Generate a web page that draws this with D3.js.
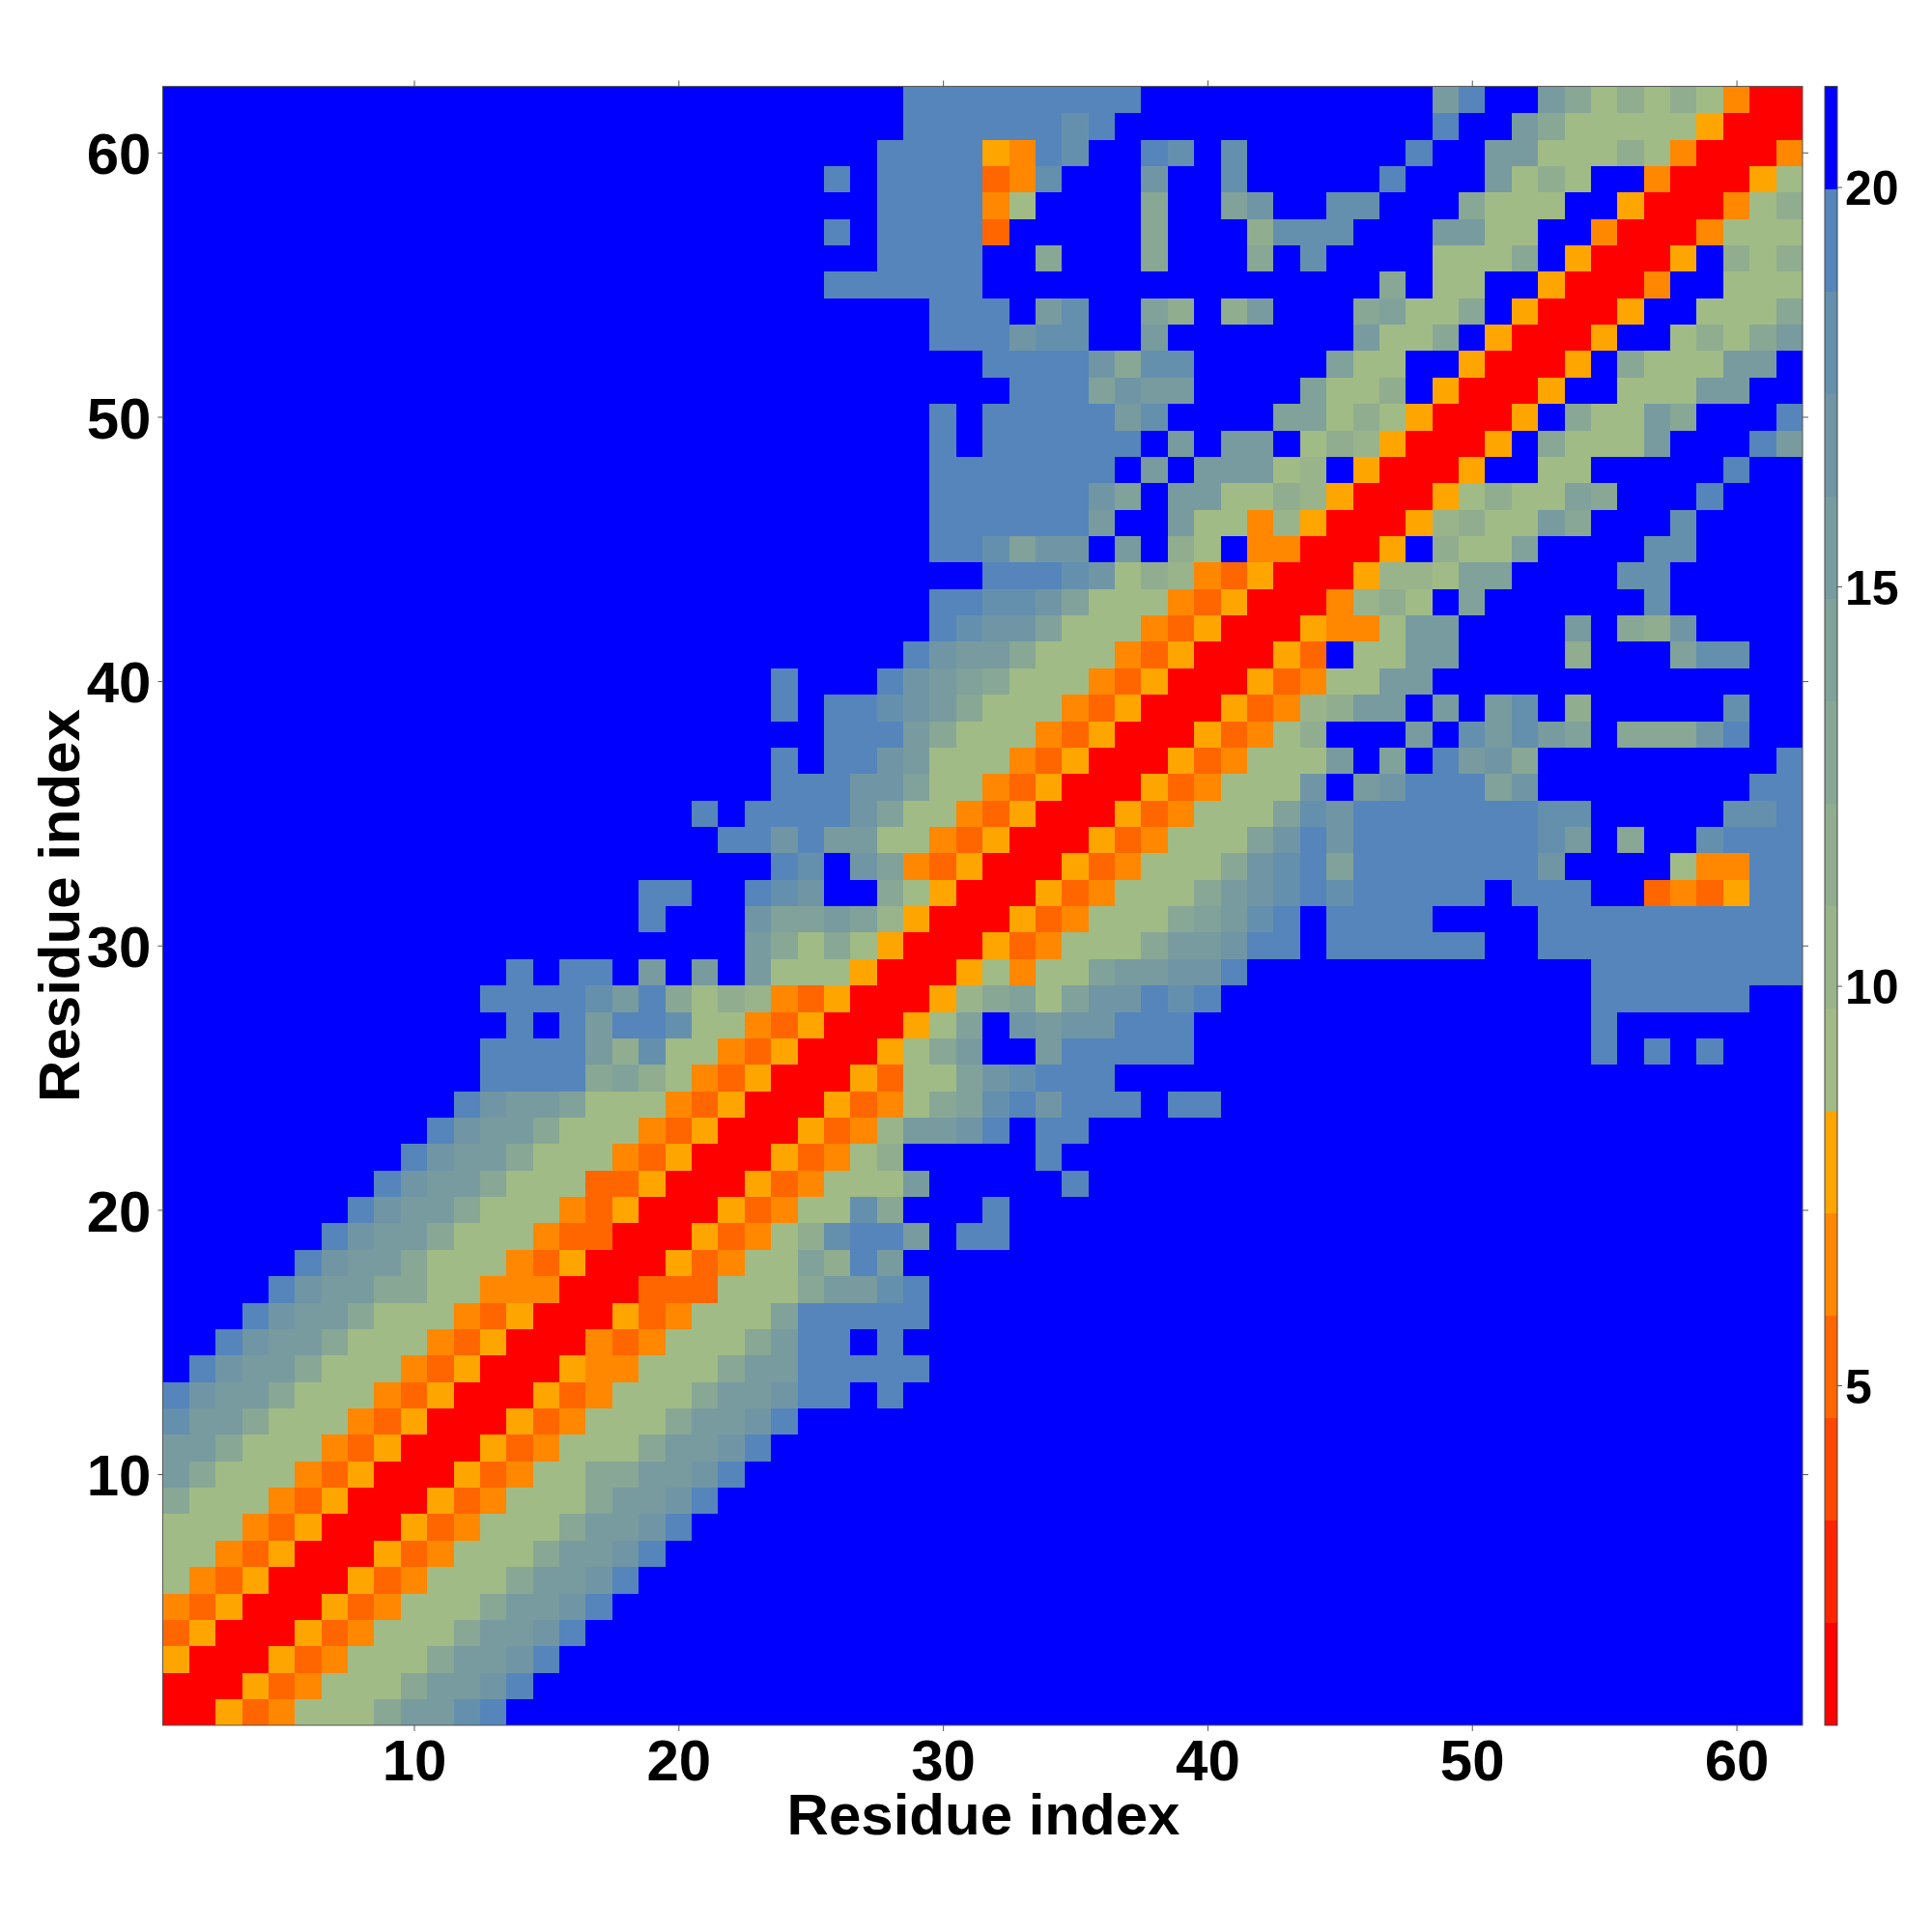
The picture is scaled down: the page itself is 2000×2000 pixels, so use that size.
<!DOCTYPE html>
<html>
<head>
<meta charset="utf-8">
<script src="https://cdn.jsdelivr.net/npm/d3@7"></script>
<style>
html,body{margin:0;padding:0;background:#fff}
svg{display:block}
text{font-family:"Liberation Sans",Arial,sans-serif;font-weight:700;fill:#000}
</style>
</head>
<body>
<svg id="chart" width="2000" height="2000"></svg>
<script>
// Distance-map bands for residue pairs (lower index <= upper index), one string per residue 1..62.
// Each character is a colour-bar band (1..9,a..g); short rows are left-padded with band g.
const distanceRows = [
"1","11","611","4611","54611","754611","7754611","77754611","a77754611","ca77754611",
"cca77754611","ecca77754611","fdcca77754611","fdcca77754611","fdcca77754611","fdcca77754611",
"fdccaa7755511","fdcca77754611","fdcca77754411","fdcca77754611","fdcca77744611","fdcca77754611",
"fdcca77754611","fdccb77754611","ffffab9754611","ffffc9e7754611","fgfcffe7754611","ffffecfa79854611",
"fgffgcgcgc777611","ca7a7611","fgggdbbcb8611","ffggfedgga7611","fegdb54611","ffdfcc7754611",
"fgffffdb7754611","fffddb7754611","fgffdc77754611","fffca77754611","fgffedca77754611","fgggfdcba77754611",
"fdcca77754611","feddb77754611","ffeedb77754611","fffed79854611","ffebddgcg97g5511","ffffffcggc7758611",
"ffffffdbgcc7798611","fffffffgcgccc78g611","fgffffffgcgccg798611","fgfffffceggggbb797611",
"fffbdccggggb779g611","ffffdaeegggggb77gg611","fffdeeggcgggggggc77ag611","fffgceggb9g9cgggab77ag611",
"ffffffgggggggggggggggag77gg611","ffffggagggagggagegggg777ag611","fgffff4gggggaggg9eeegggcc77gg511",
"ffff57ggggaggbdggeeggga777gg611","fgffff45egggdggegggggfgggc797gg511",
"ffff65feggfegeggggggfggcc77797511","ffffffefggggggggggggfggca77777611",
"fffffffffgggggggggggcfggca7979751 1"
];
const axisTicks = [10, 20, 30, 40, 50, 60];
const colorTicks = [5, 10, 15, 20];
const colorBands = ["#ff0000","#ff2400","#ff4800","#ff6600","#ff8800","#ffa500","#a1bb86","#99b48b","#90ad90",
  "#88a795","#80a29a","#789b9f","#7096a5","#6490ae","#5585bb","#0000ff"];
const valueMin = 0.744, valueMax = 21.26;
const axisTitle = "Residue index";

const plot = {left:168.4, right:1866, top:89.4, bottom:1786};
const bar = {left:1889, right:1902};
const svg = d3.select("#chart");

const x = d3.scaleLinear().domain([0.5, 62.5]).range([plot.left, plot.right]);
const y = d3.scaleLinear().domain([0.5, 62.5]).range([plot.bottom, plot.top]);
const color = d3.scaleQuantize().domain([valueMin, valueMax]).range(colorBands);
const bandStep = (valueMax - valueMin) / colorBands.length;
const toValue = c => valueMin + (parseInt(c, 17) - 0.5) * bandStep;

// Symmetric matrix from the stored half
const cells = [];
distanceRows.forEach((row, k) => {
  const j = k + 1, chars = row.replace(/\s/g, "").padStart(j, "g");
  for (let i = 1; i <= j; i++) {
    const v = toValue(chars[i - 1]);
    cells.push({i, j, v});
    if (i !== j) cells.push({i: j, j: i, v});
  }
});

svg.append("g").selectAll("rect").data(cells).join("rect")
  .attr("x", d => x(d.i - 0.5))
  .attr("y", d => y(d.j + 0.5))
  .attr("width", d => x(d.i + 0.5) - x(d.i - 0.5) + 0.4)
  .attr("height", d => y(d.j - 0.5) - y(d.j + 0.5) + 0.4)
  .attr("fill", d => color(d.v))
  .attr("shape-rendering", "crispEdges");

svg.append("rect")
  .attr("x", plot.left).attr("y", plot.top)
  .attr("width", plot.right - plot.left).attr("height", plot.bottom - plot.top)
  .attr("fill", "none").attr("stroke", "#555").attr("stroke-width", 1);

function styleAxis(g) {
  g.select(".domain").remove();
  g.selectAll(".tick line").attr("stroke", "#555").attr("stroke-width", 1);
}
const labelStyle = (sel, size) => sel.attr("font-size", size)
  .style("font-family", "Liberation Sans").style("font-weight", 700).attr("fill", "#000");

svg.append("g").attr("transform", `translate(0,${plot.bottom})`)
  .call(d3.axisBottom(x).tickValues(axisTicks).tickSize(6))
  .call(styleAxis)
  .call(g => labelStyle(g.selectAll("text").attr("y", 57).attr("dy", 0), 60));
svg.append("g").attr("transform", `translate(${plot.left},0)`)
  .call(d3.axisLeft(y).tickValues(axisTicks).tickSize(5))
  .call(styleAxis)
  .call(g => labelStyle(g.selectAll("text").attr("x", -12).attr("dy", "0.36em"), 60));
svg.append("g").attr("transform", `translate(0,${plot.top})`)
  .call(d3.axisTop(x).tickValues(axisTicks).tickSize(6).tickFormat(""))
  .call(styleAxis);
svg.append("g").attr("transform", `translate(${plot.right},0)`)
  .call(d3.axisRight(y).tickValues(axisTicks).tickSize(6).tickFormat(""))
  .call(styleAxis);

svg.append("text").attr("x", 1018).attr("y", 1899).attr("text-anchor", "middle")
  .attr("font-size", 60).text(axisTitle);
svg.append("text").attr("transform", "translate(82,937.5) rotate(-90)").attr("text-anchor", "middle")
  .attr("font-size", 60).text(axisTitle);

// Colour bar
const yBar = d3.scaleLinear().domain([valueMin, valueMax]).range([plot.bottom, plot.top]);
svg.append("g").selectAll("rect").data(colorBands).join("rect")
  .attr("x", bar.left).attr("width", bar.right - bar.left)
  .attr("y", (c, k) => yBar(valueMin + (k + 1) * bandStep))
  .attr("height", (c, k) => yBar(valueMin + k * bandStep) - yBar(valueMin + (k + 1) * bandStep) + 0.4)
  .attr("fill", c => c).attr("shape-rendering", "crispEdges");
svg.append("rect").attr("x", bar.left).attr("y", plot.top)
  .attr("width", bar.right - bar.left).attr("height", plot.bottom - plot.top)
  .attr("fill", "none").attr("stroke", "#444").attr("stroke-width", 1);
svg.append("g").attr("transform", `translate(${bar.right},0)`)
  .call(d3.axisRight(yBar).tickValues(colorTicks).tickSize(5))
  .call(styleAxis)
  .call(g => labelStyle(g.selectAll("text").attr("x", 8).attr("dy", "0.36em"), 50));
</script>
</body>
</html>
